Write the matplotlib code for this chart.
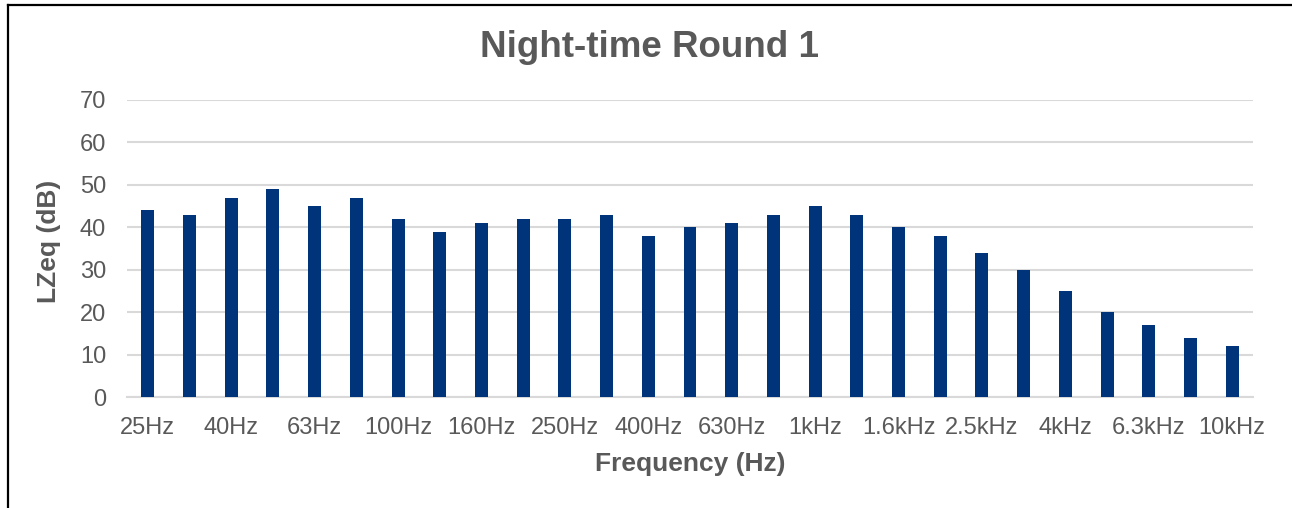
import matplotlib.pyplot as plt
from matplotlib.lines import Line2D

# third-octave bands, 25Hz .. 10kHz
bands = ['25Hz', '31.5Hz', '40Hz', '50Hz', '63Hz', '80Hz', '100Hz', '125Hz', '160Hz',
         '200Hz', '250Hz', '315Hz', '400Hz', '500Hz', '630Hz', '800Hz', '1kHz',
         '1.25kHz', '1.6kHz', '2kHz', '2.5kHz', '3.15kHz', '4kHz', '5kHz', '6.3kHz',
         '8kHz', '10kHz']
lzeq = [44, 43, 47, 49, 45, 47, 42, 39, 41, 42, 42, 43, 38, 40, 41, 43, 45, 43,
        40, 38, 34, 30, 25, 20, 17, 14, 12]
y_ticks = [0, 10, 20, 30, 40, 50, 60, 70]

BAR = '#00347A'
TEXT = '#595959'
GRID = '#D9D9D9'

plt.rcParams['font.family'] = ['Liberation Sans', 'DejaVu Sans']

W, H = 1292, 508
fig = plt.figure(figsize=(W / 100, H / 100), dpi=100)
ax = fig.add_axes([127 / W, 1 - 397 / H, (1253 - 127) / W, (397 - 100) / H])

x = range(len(bands))
ax.bar(x, lzeq, width=0.31, color=BAR, zorder=3)

ax.set_xlim(-0.5, len(bands) - 0.5)
ax.set_ylim(0, 70)
ax.set_yticks(y_ticks)
ax.set_yticklabels([str(v) for v in y_ticks])
ax.set_xticks(list(x)[::2])
ax.set_xticklabels(bands[::2])
ax.tick_params(axis='y', length=0, pad=15, labelsize=17, labelcolor=TEXT)
ax.tick_params(axis='x', length=0, pad=14.5, labelsize=17, labelcolor=TEXT)
ax.grid(axis='y', color=GRID, linewidth=1.5, zorder=0)
for s in ['top', 'right', 'left']:
    ax.spines[s].set_visible(False)
ax.spines['bottom'].set_color(GRID)
ax.spines['bottom'].set_linewidth(1.5)

fig.text(650 / W, 1 - 47 / H, 'Night-time Round 1', ha='center', va='center',
         fontsize=26.5, fontweight='bold', color=TEXT)
fig.text(690 / W, 1 - 464 / H, 'Frequency (Hz)', ha='center', va='center',
         fontsize=19, fontweight='bold', color=TEXT)
fig.text(49 / W, 1 - 241 / H, 'LZeq (dB)', ha='center', va='center', rotation=90,
         fontsize=19, fontweight='bold', color=TEXT)

# outer frame (only left and top edges visible in the crop)
fig.add_artist(Line2D([7.5 / W, 7.5 / W], [0, 1 - 4.5 / H], color='black', linewidth=1.6))
fig.add_artist(Line2D([7.5 / W, 1], [1 - 4.5 / H, 1 - 4.5 / H], color='black', linewidth=1.6))

fig.savefig('out.png', dpi=100, facecolor='white')
